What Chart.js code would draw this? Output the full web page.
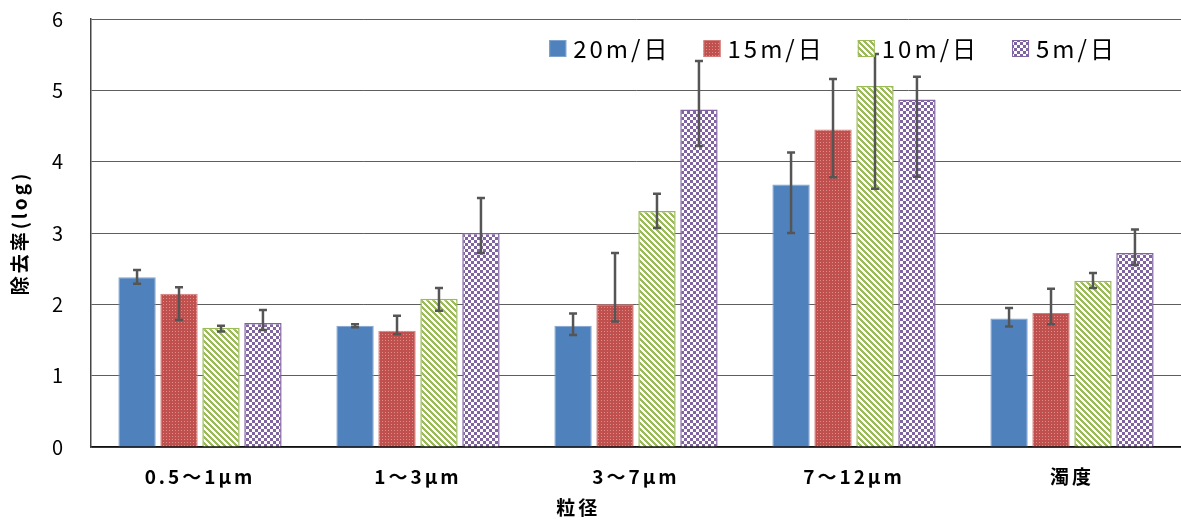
<!DOCTYPE html>
<html>
<head>
<meta charset="utf-8">
<script src="https://cdn.jsdelivr.net/npm/chart.js@4.4.1/dist/chart.umd.min.js"></script>
<style>
html, body { margin: 0; padding: 0; background: #fff; }
#wrap { width: 1181px; height: 520px; }
</style>
</head>
<body>
<div id="wrap"><canvas id="chart"></canvas></div>
<script>
const categories = ['0.5～1μm', '1～3μm', '3～7μm', '7～12μm', '濁度'];
const seriesNames = ['20m/日', '15m/日', '10m/日', '5m/日'];

const rate20 = [2.38, 1.70, 1.70, 3.68, 1.80];
const rate15 = [2.15, 1.63, 2.00, 4.45, 1.88];
const rate10 = [1.67, 2.08, 3.31, 5.06, 2.33];
const rate5  = [1.74, 3.00, 4.73, 4.87, 2.72];

// error bar ends, upper and lower
const hi20 = [2.48, 1.72, 1.87, 4.13, 1.95];
const lo20 = [2.29, 1.68, 1.57, 3.00, 1.69];
const hi15 = [2.24, 1.84, 2.72, 5.16, 2.22];
const lo15 = [1.78, 1.58, 1.76, 3.78, 1.72];
const hi10 = [1.70, 2.23, 3.55, 5.51, 2.44];
const lo10 = [1.62, 1.91, 3.07, 3.62, 2.23];
const hi5  = [1.92, 3.49, 5.41, 5.19, 3.05];
const lo5  = [1.64, 2.72, 4.22, 3.79, 2.55];

const yMin = 0, yMax = 6, yStep = 1;
const yTitle = '除去率(log)';
const xTitle = '粒径';

const FONT = '"Noto Sans CJK JP", "Noto Sans", sans-serif';
Chart.defaults.font.family = FONT;
Chart.defaults.color = '#000';

// fill patterns like the excel ones
function makePattern(size, paint) {
    const c = document.createElement('canvas');
    c.width = size;
    c.height = size;
    const g = c.getContext('2d');
    paint(g, size);
    return g.createPattern(c, 'repeat');
}

const redDots = makePattern(3, function (g) {
    g.fillStyle = '#C0504D';
    g.fillRect(0, 0, 3, 3);
    g.fillStyle = '#DC8C89';
    g.fillRect(1, 1, 1, 1);
});

const greenStripes = makePattern(6, function (g, n) {
    g.fillStyle = '#fff';
    g.fillRect(0, 0, n, n);
    g.fillStyle = '#9BBB59';
    for (let y = 0; y < n; y++) {
        for (let x = 0; x < n; x++) {
            if ((x - y + n) % n < 3) g.fillRect(x, y, 1, 1);
        }
    }
});

const purpleChecks = makePattern(6, function (g) {
    g.fillStyle = '#fff';
    g.fillRect(0, 0, 6, 6);
    g.fillStyle = '#8064A2';
    g.fillRect(0, 0, 3, 3);
    g.fillRect(3, 3, 3, 3);
});

// spacing like the wide glyphs of the original
const spacing = {
    id: 'spacing',
    beforeLayout(chart) { chart.ctx.letterSpacing = '3px'; },
    beforeDraw(chart) { chart.ctx.letterSpacing = '3px'; }
};

const errorBars = {
    id: 'errorBars',
    afterDatasetsDraw(chart) {
        const ctx = chart.ctx;
        const y = chart.scales.y;
        ctx.save();
        ctx.strokeStyle = '#555';
        ctx.lineWidth = 2.5;
        chart.data.datasets.forEach(function (ds, i) {
            chart.getDatasetMeta(i).data.forEach(function (bar, j) {
                const yt = y.getPixelForValue(ds.hi[j]);
                const yb = y.getPixelForValue(ds.lo[j]);
                ctx.beginPath();
                ctx.moveTo(bar.x, yt);
                ctx.lineTo(bar.x, yb);
                ctx.moveTo(bar.x - 4, yt);
                ctx.lineTo(bar.x + 4, yt);
                ctx.moveTo(bar.x - 4, yb);
                ctx.lineTo(bar.x + 4, yb);
                ctx.stroke();
            });
        });
        ctx.restore();
    }
};

// legend sits inside the plot, top right
const insideLegend = {
    id: 'insideLegend',
    afterDraw(chart) {
        const ctx = chart.ctx;
        const area = chart.chartArea;
        ctx.save();
        ctx.font = '24px ' + FONT;
        ctx.letterSpacing = '3px';
        ctx.textBaseline = 'middle';
        const box = 17, gapText = 7, gapItem = 36;
        const widths = chart.data.datasets.map(function (ds) { return ctx.measureText(ds.label).width - 3; });
        let total = gapItem * (widths.length - 1);
        widths.forEach(function (w) { total += box + gapText + w; });
        let x = area.right - 67 - total;
        const cy = area.top + 29;
        chart.data.datasets.forEach(function (ds, i) {
            ctx.fillStyle = ds.backgroundColor;
            ctx.fillRect(x, cy - 8, box, box);
            ctx.strokeStyle = ds.borderColor;
            ctx.lineWidth = 1;
            ctx.strokeRect(x + 0.5, cy - 7.5, box - 1, box - 1);
            ctx.fillStyle = '#000';
            ctx.fillText(ds.label, x + box + gapText, cy + 1);
            x += box + gapText + widths[i] + gapItem;
        });

        // x axis title, a bit left of centre as in the original
        ctx.font = 'bold 19px ' + FONT;
        ctx.textAlign = 'center';
        ctx.fillText(xTitle, area.left + (area.right - area.left) * 0.447, 508);
        ctx.restore();
    }
};

new Chart(document.getElementById('chart'), {
    type: 'bar',
    data: {
        labels: categories,
        datasets: [
            { label: seriesNames[0], data: rate20, hi: hi20, lo: lo20,
              backgroundColor: '#4F81BD', borderColor: '#7EA3CF', borderWidth: 1 },
            { label: seriesNames[1], data: rate15, hi: hi15, lo: lo15,
              backgroundColor: redDots, borderColor: '#D47C79', borderWidth: 1 },
            { label: seriesNames[2], data: rate10, hi: hi10, lo: lo10,
              backgroundColor: greenStripes, borderColor: '#9BBB59', borderWidth: 1.5 },
            { label: seriesNames[3], data: rate5, hi: hi5, lo: lo5,
              backgroundColor: purpleChecks, borderColor: '#8064A2', borderWidth: 1.5 }
        ]
    },
    options: {
        responsive: true,
        maintainAspectRatio: false,
        animation: false,
        categoryPercentage: 0.77,
        barPercentage: 0.89,
        layout: { padding: { top: 19, right: 0, bottom: 0, left: 0 } },
        plugins: {
            legend: { display: false },
            tooltip: { enabled: false }
        },
        scales: {
            x: {
                grid: { display: false, drawTicks: false },
                border: { display: true, color: '#111', width: 1.5 },
                ticks: { padding: 18, font: { size: 19, weight: 'bold' }, color: '#000' },
                afterFit(scale) { scale.height = 73; }
            },
            y: {
                min: yMin,
                max: yMax,
                // gap to the labels comes from an invisible tick mark, so the top stays at 19px
                ticks: { stepSize: yStep, padding: 0, font: { size: 20 }, color: '#000' },
                grid: { color: '#5e5e5e', lineWidth: 1, drawTicks: true, tickLength: 25, tickColor: 'rgba(0,0,0,0)' },
                border: { display: true, color: '#444', width: 1.5 },
                title: { display: true, text: yTitle, font: { size: 19, weight: 'bold' }, padding: { top: 8, bottom: 0 }, color: '#000' },
                afterFit(scale) { scale.width = 91; }
            }
        }
    },
    plugins: [spacing, errorBars, insideLegend]
});
</script>
</body>
</html>
